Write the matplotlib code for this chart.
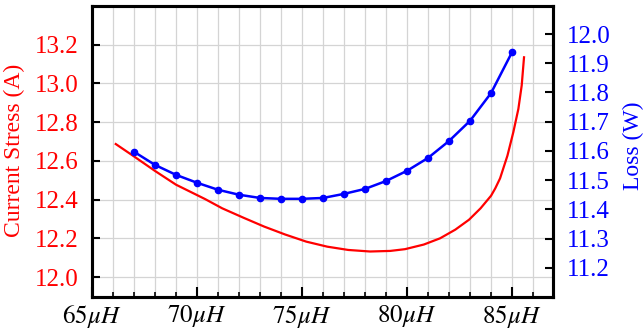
import matplotlib
matplotlib.use("Agg")
import matplotlib.pyplot as plt
from matplotlib.ticker import MultipleLocator, FixedLocator

plt.rcParams['font.family'] = ['Liberation Serif', 'DejaVu Serif']
plt.rcParams['mathtext.fontset'] = 'stix'

# inductance (uH) vs. current stress (A)
l_stress = [66.13, 67.0, 68.0, 69.0, 70.38, 71.2, 72.2, 73.19, 74.19, 75.2, 76.2,
            77.2, 78.24, 79.2, 79.9, 80.8, 81.57, 82.3, 82.95, 83.5, 84.0, 84.2,
            84.43, 84.78, 85.06, 85.3, 85.46, 85.57]
stress = [12.687, 12.623, 12.548, 12.477, 12.403, 12.355, 12.307, 12.261, 12.22,
          12.183, 12.157, 12.14, 12.132, 12.135, 12.144, 12.168, 12.2, 12.245,
          12.296, 12.355, 12.42, 12.458, 12.51, 12.627, 12.748, 12.868, 12.99, 13.135]

# inductance (uH) vs. loss (W), sampled every 1 uH
l_loss = [67, 68, 69, 70, 71, 72, 73, 74, 75, 76, 77, 78, 79, 80, 81, 82, 83, 84, 85]
loss = [11.597, 11.552, 11.518, 11.491, 11.467, 11.450, 11.439, 11.436, 11.436,
        11.439, 11.453, 11.470, 11.497, 11.532, 11.576, 11.634, 11.703, 11.798, 11.938]

x_ticks = [65, 70, 75, 80, 85]
x_labels = [r'$%d\mu H$' % v for v in x_ticks]
left_ticks = [12.0, 12.2, 12.4, 12.6, 12.8, 13.0, 13.2]
right_ticks = [11.2, 11.3, 11.4, 11.5, 11.6, 11.7, 11.8, 11.9, 12.0]

RED = '#ff0000'
BLUE = '#0000ff'

fig = plt.figure(figsize=(6.44, 3.33), dpi=100)
ax1 = fig.add_axes([0.1429, 0.1081, 0.7158, 0.8739])
ax2 = ax1.twinx()

ax1.plot(l_stress, stress, color=RED, lw=1.6, zorder=3)
ax2.plot(l_loss, loss, color=BLUE, lw=1.8, marker='o', ms=4.5, zorder=3)

ax1.set_xlim(65, 86.95)
ax1.set_ylim(11.897, 13.4)
ax2.set_ylim(11.1, 12.096)

ax1.xaxis.set_major_locator(FixedLocator(x_ticks))
ax1.set_xticklabels(x_labels, fontsize=18)
ax1.xaxis.set_minor_locator(MultipleLocator(1))
ax1.yaxis.set_major_locator(FixedLocator(left_ticks))
ax2.yaxis.set_major_locator(FixedLocator(right_ticks))
ax1.set_yticklabels(['%.1f' % v for v in left_ticks], fontsize=18, color=RED)
ax2.set_yticklabels(['%.1f' % v for v in right_ticks], fontsize=18, color=BLUE)

ax1.tick_params(axis='x', which='major', direction='in', length=7, width=1.5, pad=4)
ax1.tick_params(axis='x', which='minor', direction='in', length=3.5, width=1.2)
ax1.tick_params(axis='y', which='major', direction='in', length=6, width=1.5, pad=10)
ax2.tick_params(axis='y', which='major', direction='in', length=6, width=1.5, pad=10)

ax1.grid(True, axis='x', which='both', color='#d4d4d4', lw=0.9)
ax1.grid(True, axis='y', which='major', color='#d4d4d4', lw=0.9)

for ax in (ax1, ax2):
    for sp in ax.spines.values():
        sp.set_linewidth(2.2)

ax1.set_ylabel('Current Stress (A)', fontsize=17, color=RED)
ax1.yaxis.set_label_coords(-0.145, 0.505)
ax2.set_ylabel('Loss (W)', fontsize=17, color=BLUE)
ax2.yaxis.set_label_coords(1.152, 0.52)

fig.savefig('out.png', dpi=100)
